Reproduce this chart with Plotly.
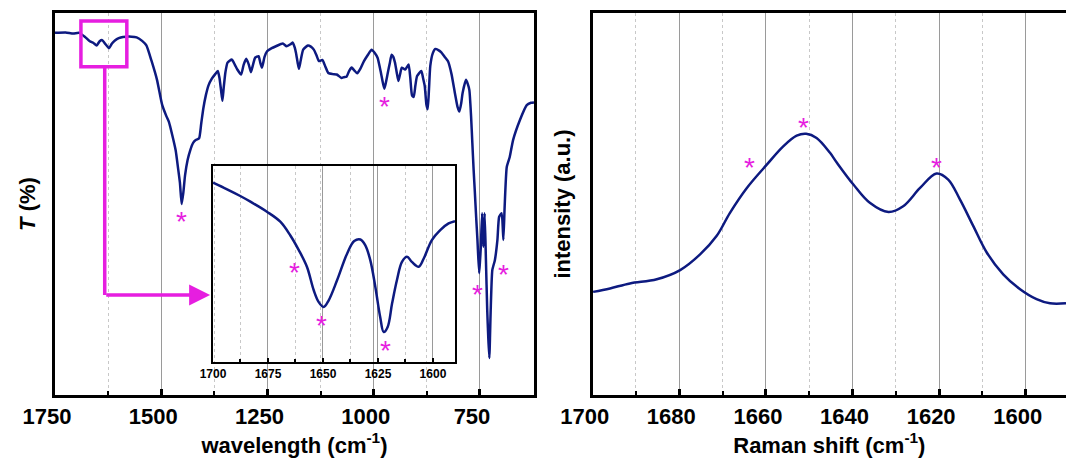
import plotly.graph_objects as go

# FTIR spectrum (left panel)
ir_wn = [1750, 1725, 1707, 1693, 1680, 1668, 1660, 1652, 1645, 1639, 1631, 1623, 1616, 1609, 1600,
         1590, 1570, 1558, 1545, 1535, 1523, 1510, 1498, 1488, 1482, 1474, 1466, 1460, 1456, 1452,
         1448, 1444, 1438, 1432, 1425, 1418, 1411, 1406, 1401, 1395, 1389, 1381, 1373, 1367, 1363,
         1359, 1356, 1353, 1349, 1344, 1334, 1327, 1321, 1312, 1306, 1300, 1294, 1289, 1284, 1279,
         1271, 1267, 1263, 1257, 1251, 1240, 1230, 1214, 1205, 1196, 1191, 1186, 1183, 1179, 1176,
         1172, 1166, 1155, 1148, 1141, 1135, 1129, 1121, 1114, 1107, 1097, 1087, 1076, 1070, 1064,
         1058, 1052, 1046, 1039, 1031, 1023, 1014, 1005, 998, 991, 983, 979, 975, 971, 967,
         962, 958, 954, 950, 946, 942, 938, 934, 926, 918, 914, 910, 906, 902, 898,
         888, 884, 880, 876, 873, 870, 867, 861, 855, 848, 841, 833, 825, 817, 809,
         803, 798.5, 794, 791, 783, 779, 775, 771, 768, 765, 762, 759, 756, 752, 750,
         748, 745, 742, 739, 736, 733, 730.5, 728, 725, 721, 715, 709, 705, 699, 695,
         692, 687, 680, 672, 656, 640, 630, 623]
ir_t = [94.8, 94.9, 94.6, 94.8, 93.8, 92.6, 92.2, 91.5, 92.6, 92.9, 91.8, 90.8, 92.0, 92.8, 93.4,
        93.7, 93.8, 93.6, 92.7, 91.5, 87.5, 82.5, 76.0, 73.0, 71.5, 68.0, 64.0, 59.0, 55.5, 50.0,
        53.0, 57.5, 61.5, 64.0, 66.0, 66.8, 67.2, 71.0, 75.0, 78.5, 81.0, 82.8, 84.0, 84.8, 83.0,
        79.5, 77.0, 80.5, 84.5, 87.0, 87.8, 86.5, 85.2, 83.9, 86.5, 88.0, 86.5, 84.5, 86.5, 88.3,
        88.7, 87.0, 85.7, 88.5, 90.0, 90.8, 91.3, 92.0, 91.3, 91.8, 92.3, 91.0, 89.6, 87.0, 85.4,
        87.5, 90.4, 91.5, 91.2, 90.4, 89.0, 87.4, 87.7, 86.0, 84.3, 84.0, 83.9, 83.0, 83.2, 83.3,
        84.8, 85.7, 85.0, 84.2, 85.5, 87.4, 89.0, 90.4, 89.6, 88.3, 84.3, 82.0, 80.2, 82.0, 84.3,
        87.0, 89.1, 88.5, 87.0, 84.5, 82.2, 84.0, 85.7, 85.2, 86.5, 83.0, 78.5, 78.0, 81.0, 83.5,
        84.8, 83.0, 80.9, 76.0, 74.8, 80.0, 86.1, 89.5, 90.6, 90.3, 89.7, 88.5, 87.3, 84.0, 79.0,
        75.5, 74.2, 76.5, 79.0, 82.5, 81.5, 79.8, 73.0, 66.0, 59.0, 52.9, 46.5, 40.6, 31.9, 35.0,
        38.8, 47.6, 38.8, 47.6, 35.3, 22.3, 15.0, 9.7, 21.5, 32.7, 35.3, 40.6, 46.6, 47.6, 40.6,
        49.2, 59.7, 62.3, 66.8, 72.0, 75.9, 76.5, 76.6]
ir_star_wn = [1452, 975, 756, 695]
ir_star_t = [47.1, 77.2, 28.0, 33.2]

# inset: zoom of the 1700-1590 region
inset_wn = [1700, 1693.6, 1687.6, 1683, 1675.5, 1669.4, 1664.9, 1661, 1657.3, 1654.2, 1652, 1649.7,
            1647.4, 1643.6, 1639, 1635.8, 1633, 1630.8, 1628.5, 1626.2, 1624, 1622.4, 1620.6,
            1618.6, 1616.4, 1614.1, 1611.8, 1609.6, 1606.5, 1604.2, 1600.5, 1596.7, 1592.9, 1590]
inset_t = [91.5, 88.1, 84.7, 81.8, 76.7, 71.6, 64.7, 57.1, 48.6, 36.6, 30.7, 28.1,
           31.5, 41.7, 55.4, 61.7, 62.5, 59.6, 52.0, 38.3, 23.0, 15.3, 17.9,
           29.8, 41.7, 51.1, 53.7, 51.1, 48.6, 52.8, 62.2, 67.3, 70.7, 71.9]
inset_star_wn = [1662.9, 1650.5, 1621.7]
inset_star_t = [48.9, 21.6, 9.0]

# Raman spectrum (right panel)
raman_shift = [1699.9, 1696, 1691.4, 1685.2, 1679.8, 1675.2, 1671.4, 1668.3, 1664.4, 1659.8, 1656,
               1652.9, 1650.7, 1648.3, 1645.2, 1643.6, 1639.8, 1636, 1631.7, 1628.3, 1624.4,
               1620.6, 1617.9, 1615.2, 1612.1, 1609, 1605.2, 1601.3, 1597.5, 1594.4, 1590.7]
raman_int = [27.0, 27.9, 29.2, 30.3, 32.7, 36.8, 41.6, 47.7, 54.2, 60.3, 65.1,
             67.9, 68.4, 67.3, 63.4, 60.8, 55.1, 50.3, 47.9, 49.4, 54.2,
             58.0, 56.4, 51.2, 44.2, 37.3, 31.6, 27.7, 25.1, 24.0, 24.0]
raman_star_shift = [1663.8, 1651.4, 1620.6]
raman_star_int = [61.2, 71.6, 61.2]

NAVY = "#0d1a80"
MAG = "#e61ee0"
FONT = "Liberation Sans"
STAR = dict(color=MAG, size=28, family=FONT)

fig = go.Figure()
fig.add_trace(go.Scatter(x=ir_wn, y=ir_t, mode="lines",
                         line=dict(color=NAVY, width=2.5, shape="spline", smoothing=0.5),
                         xaxis="x", yaxis="y", showlegend=False))
fig.add_trace(go.Scatter(x=inset_wn, y=inset_t, mode="lines",
                         line=dict(color=NAVY, width=2.5, shape="spline", smoothing=1),
                         xaxis="x3", yaxis="y3", showlegend=False))
fig.add_trace(go.Scatter(x=raman_shift, y=raman_int, mode="lines",
                         line=dict(color=NAVY, width=2.5, shape="spline", smoothing=1),
                         xaxis="x2", yaxis="y2", showlegend=False))

# peak markers (asterisks); the glyph sits high in its text box, so nudge it down
for xs, ys, ax_x, ax_y in [(ir_star_wn, ir_star_t, "x", "y"),
                           (inset_star_wn, inset_star_t, "x3", "y3"),
                           (raman_star_shift, raman_star_int, "x2", "y2")]:
    for sx, sy in zip(xs, ys):
        fig.add_annotation(x=sx, y=sy, xref=ax_x, yref=ax_y, text="*", showarrow=False,
                           font=STAR, yshift=-6)

tick_font = dict(family=FONT, size=22, color="black", weight="bold")
title_font = dict(family=FONT, size=22, color="black", weight="bold")


def xax(domain, rng, dtick, minor_dtick, title, anchor, lw=3, shift=8, tfont=tick_font):
    return dict(domain=domain, range=rng, anchor=anchor, dtick=dtick, tick0=0, automargin=False,
                showline=True, linecolor="black", linewidth=lw, mirror=True,
                ticks="inside", ticklen=6, tickwidth=3, tickcolor="black",
                showgrid=True, gridcolor="#9a9a9a", gridwidth=1,
                minor=dict(dtick=minor_dtick, tick0=0, ticks="inside", ticklen=4, tickwidth=2,
                           tickcolor="black", showgrid=True, gridcolor="#c8c8c8", griddash="dot"),
                tickfont=tfont, ticklabelshift=shift, zeroline=False,
                title=dict(text=title, font=title_font, standoff=4))


def yax(domain, anchor, title, lw=3, mirror=True, standoff=14):
    return dict(domain=domain, range=[0, 100], anchor=anchor, showticklabels=False,
                automargin=False, ticks="", showgrid=False, zeroline=False, showline=True,
                linecolor="black", linewidth=lw, mirror=mirror,
                title=dict(text=title, font=title_font, standoff=standoff))


layout = dict(
    width=1066, height=459, margin=dict(l=0, r=0, t=0, b=0),
    plot_bgcolor="rgba(0,0,0,0)", paper_bgcolor="white",
    xaxis=xax([0.0516, 0.5009], [1750, 623], 250, 125, "wavelength (cm<sup>-1</sup>)", "y"),
    yaxis=yax([0.1394, 0.9717], "x", "<i>T</i> (%)", standoff=11),
    xaxis2=xax([0.556, 1.0], [1700, 1590.7], 20, 10, "Raman shift (cm<sup>-1</sup>)", "y2"),
    yaxis2=yax([0.1394, 0.9717], "x2", "intensity (a.u.)", mirror=False, standoff=13),
    xaxis3=xax([0.1998, 0.4268], [1700, 1590], 25, 12.5, "", "y3", lw=2, shift=0,
               tfont=dict(family=FONT, size=12, color="black", weight="bold")),
    yaxis3=yax([0.2113, 0.6383], "x3", "", lw=2),
)
layout["xaxis3"]["ticklen"] = 4
layout["xaxis3"]["tickwidth"] = 2
layout["xaxis3"]["minor"]["ticklen"] = 3

fig.update_layout(layout)

# magenta box marking the zoomed region, with L-shaped arrow to the inset
fig.add_shape(type="rect", xref="x", yref="y", x0=1689, x1=1581, y0=85.9, y1=97.9,
              line=dict(color=MAG, width=3.5))
fig.add_shape(type="line", xref="x", yref="y", x0=1633, x1=1633, y0=85.9, y1=26.2,
              line=dict(color=MAG, width=3.5))
fig.add_annotation(x=1385, y=26.2, ax=1633, ay=26.2, xref="x", yref="y", axref="x", ayref="y",
                   showarrow=True, arrowhead=2, arrowsize=1.2, arrowwidth=3.5, arrowcolor=MAG,
                   text="")

fig.write_html("out.html", config={"displayModeBar": False},
               post_script="document.body.style.margin='0';document.body.style.overflow='hidden';")
